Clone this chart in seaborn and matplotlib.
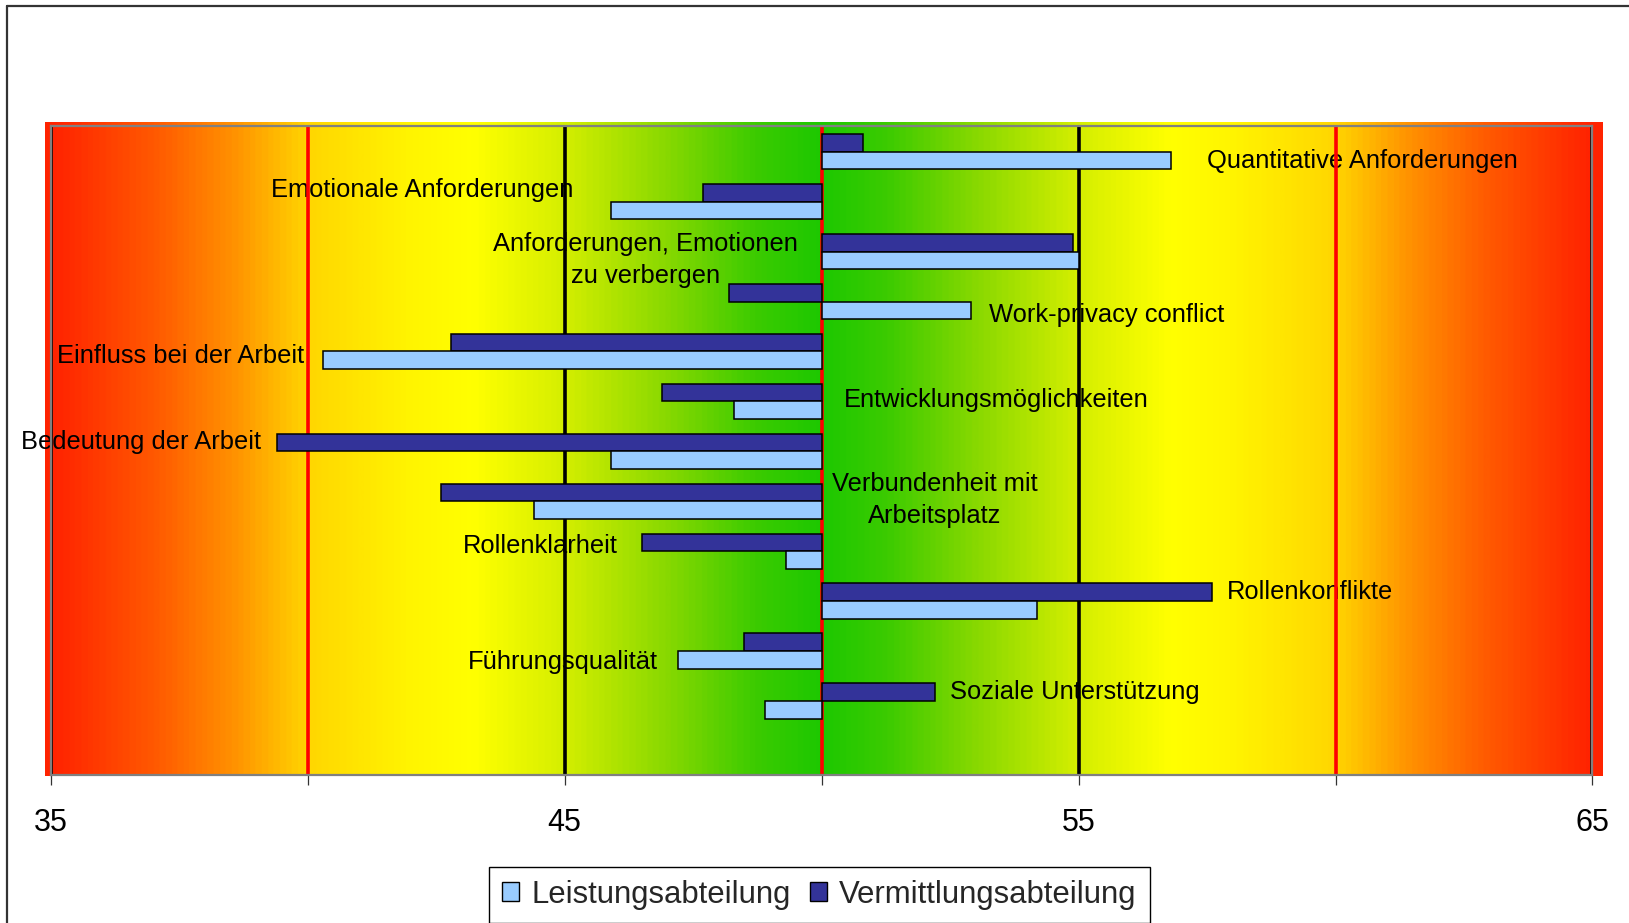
import numpy as np
import pandas as pd
import matplotlib
matplotlib.use("Agg")
import matplotlib.pyplot as plt
from matplotlib.colors import LinearSegmentedColormap
from matplotlib.patches import Patch
from matplotlib.lines import Line2D
import seaborn as sns

# ---- data -----------------------------------------------------------------
categories = [
    "Quantitative Anforderungen",
    "Emotionale Anforderungen",
    "Anforderungen, Emotionen\nzu verbergen",
    "Work-privacy conflict",
    "Einfluss bei der Arbeit",
    "Entwicklungsmöglichkeiten",
    "Bedeutung der Arbeit",
    "Verbundenheit mit\nArbeitsplatz",
    "Rollenklarheit",
    "Rollenkonflikte",
    "Führungsqualität",
    "Soziale Unterstützung",
]
leistung = [56.8, 45.9, 55.0, 52.9, 40.3, 48.3, 45.9, 44.4, 49.3, 54.2, 47.2, 48.9]
vermittlung = [50.8, 47.7, 54.9, 48.2, 42.8, 46.9, 39.4, 42.6, 46.5, 57.6, 48.5, 52.2]
series_names = ["Leistungsabteilung", "Vermittlungsabteilung"]
reference_value = 50
x_ticks = [35, 40, 45, 50, 55, 60, 65]
x_tick_labels = ["35", "", "45", "", "55", "", "65"]

# label placement next to the bar pairs (x in score units, y in category rows)
label_x = [57.5, 39.29, 46.58, 53.26, 35.13, 50.43, 34.42, 52.2, 43.03, 57.89, 43.11, 52.49]
label_y = [0.19, 0.77, 2.17, 3.28, 4.09, 4.97, 5.82, 6.97, 7.89, 8.81, 10.22, 10.81]
label_ha = ["left", "left", "center", "left", "left", "left", "left", "center",
            "left", "left", "left", "left"]

colors = {"Leistungsabteilung": "#99CCFF", "Vermittlungsabteilung": "#333399"}

# ---- figure ---------------------------------------------------------------
sns.set_theme(style="white")
plt.rcParams["font.family"] = ["Liberation Sans", "DejaVu Sans"]

fig = plt.figure(figsize=(16.29, 9.23), dpi=100)
ax = fig.add_axes([0.03106, 0.16035, 0.94653, 0.70347])

# traffic-light background: red - yellow - green - yellow - red
stops = [
    (35.0, (255, 35, 0)), (37.0, (255, 90, 0)), (38.5, (255, 145, 0)),
    (40.0, (255, 215, 0)), (42.0, (255, 245, 0)), (43.2, (255, 255, 0)),
    (45.0, (212, 238, 0)), (47.0, (135, 216, 0)), (48.7, (60, 203, 0)),
    (50.0, (28, 200, 0)),
]
stops = stops + [(100 - x, c) for x, c in reversed(stops[:-1])]
cmap = LinearSegmentedColormap.from_list(
    "ampel", [((x - 35) / 30, tuple(v / 255 for v in c)) for x, c in stops])
bg_x = np.linspace(34.89, 65.2, 1200)
ax.imshow(np.clip((bg_x - 35) / 30, 0, 1)[None, :], cmap=cmap, vmin=0, vmax=1,
          extent=(34.89, 65.2, 12.51, -0.574), aspect="auto",
          interpolation="bilinear", zorder=0, clip_on=False)

# bars grow from the reference value 50
df = pd.DataFrame({
    "Skala": categories * 2,
    "Abteilung": [series_names[0]] * len(categories) + [series_names[1]] * len(categories),
    "Wert": leistung + vermittlung,
})
df["Abweichung"] = df["Wert"] - reference_value

sns.barplot(data=df, x="Abweichung", y="Skala", hue="Abteilung",
            order=categories, hue_order=[series_names[1], series_names[0]],
            palette=colors, saturation=1, orient="h", width=0.71, dodge=True,
            errorbar=None, legend=False, left=reference_value,
            edgecolor="black", linewidth=1.1, zorder=3, ax=ax)

# vertical reference lines
for xv in x_ticks:
    ax.axvline(xv, color="#FF0000" if xv in (40, 50, 60) else "black",
               lw=2.6, zorder=2)

# category labels
for name, lx, ly, ha in zip(categories, label_x, label_y, label_ha):
    ax.text(lx, ly, name, fontsize=18.4, ha=ha, va="center",
            multialignment="center", linespacing=1.45, zorder=1.8, color="black")

ax.set_xlim(35, 65)
ax.set_ylim(12.48, -0.52)
ax.set_yticks([])
ax.set_xticks(x_ticks)
ax.set_xticklabels(x_tick_labels)
ax.set_xlabel("")
ax.set_ylabel("")
ax.tick_params(axis="x", bottom=True, direction="out", length=7, width=0.9,
               color="#333333", pad=17, labelsize=22, labelcolor="black")
for sp in ax.spines.values():
    sp.set_visible(True)
    sp.set_color("#808080")
    sp.set_linewidth(1.6)
    sp.set_zorder(2.5)

# legend
handles = [Patch(facecolor=colors[n], edgecolor="black", linewidth=1.0)
           for n in series_names]
leg = fig.legend(handles=handles, labels=series_names, loc="center",
                 bbox_to_anchor=(0.503, 0.0308), ncol=2, fontsize=22.4,
                 frameon=True, fancybox=False, edgecolor="black", framealpha=1,
                 handlelength=0.55, handleheight=0.55, handletextpad=0.4,
                 columnspacing=0.6, borderpad=0.42, borderaxespad=0)
leg.get_frame().set_linewidth(1.0)

# chart area frame (left and top edges)
fig.add_artist(Line2D([0.0043, 0.0043], [0.0, 0.994], transform=fig.transFigure,
                      color="#333333", lw=1.6))
fig.add_artist(Line2D([0.0043, 1.0], [0.994, 0.994], transform=fig.transFigure,
                      color="#333333", lw=1.6))

fig.savefig("out.png", dpi=100)
